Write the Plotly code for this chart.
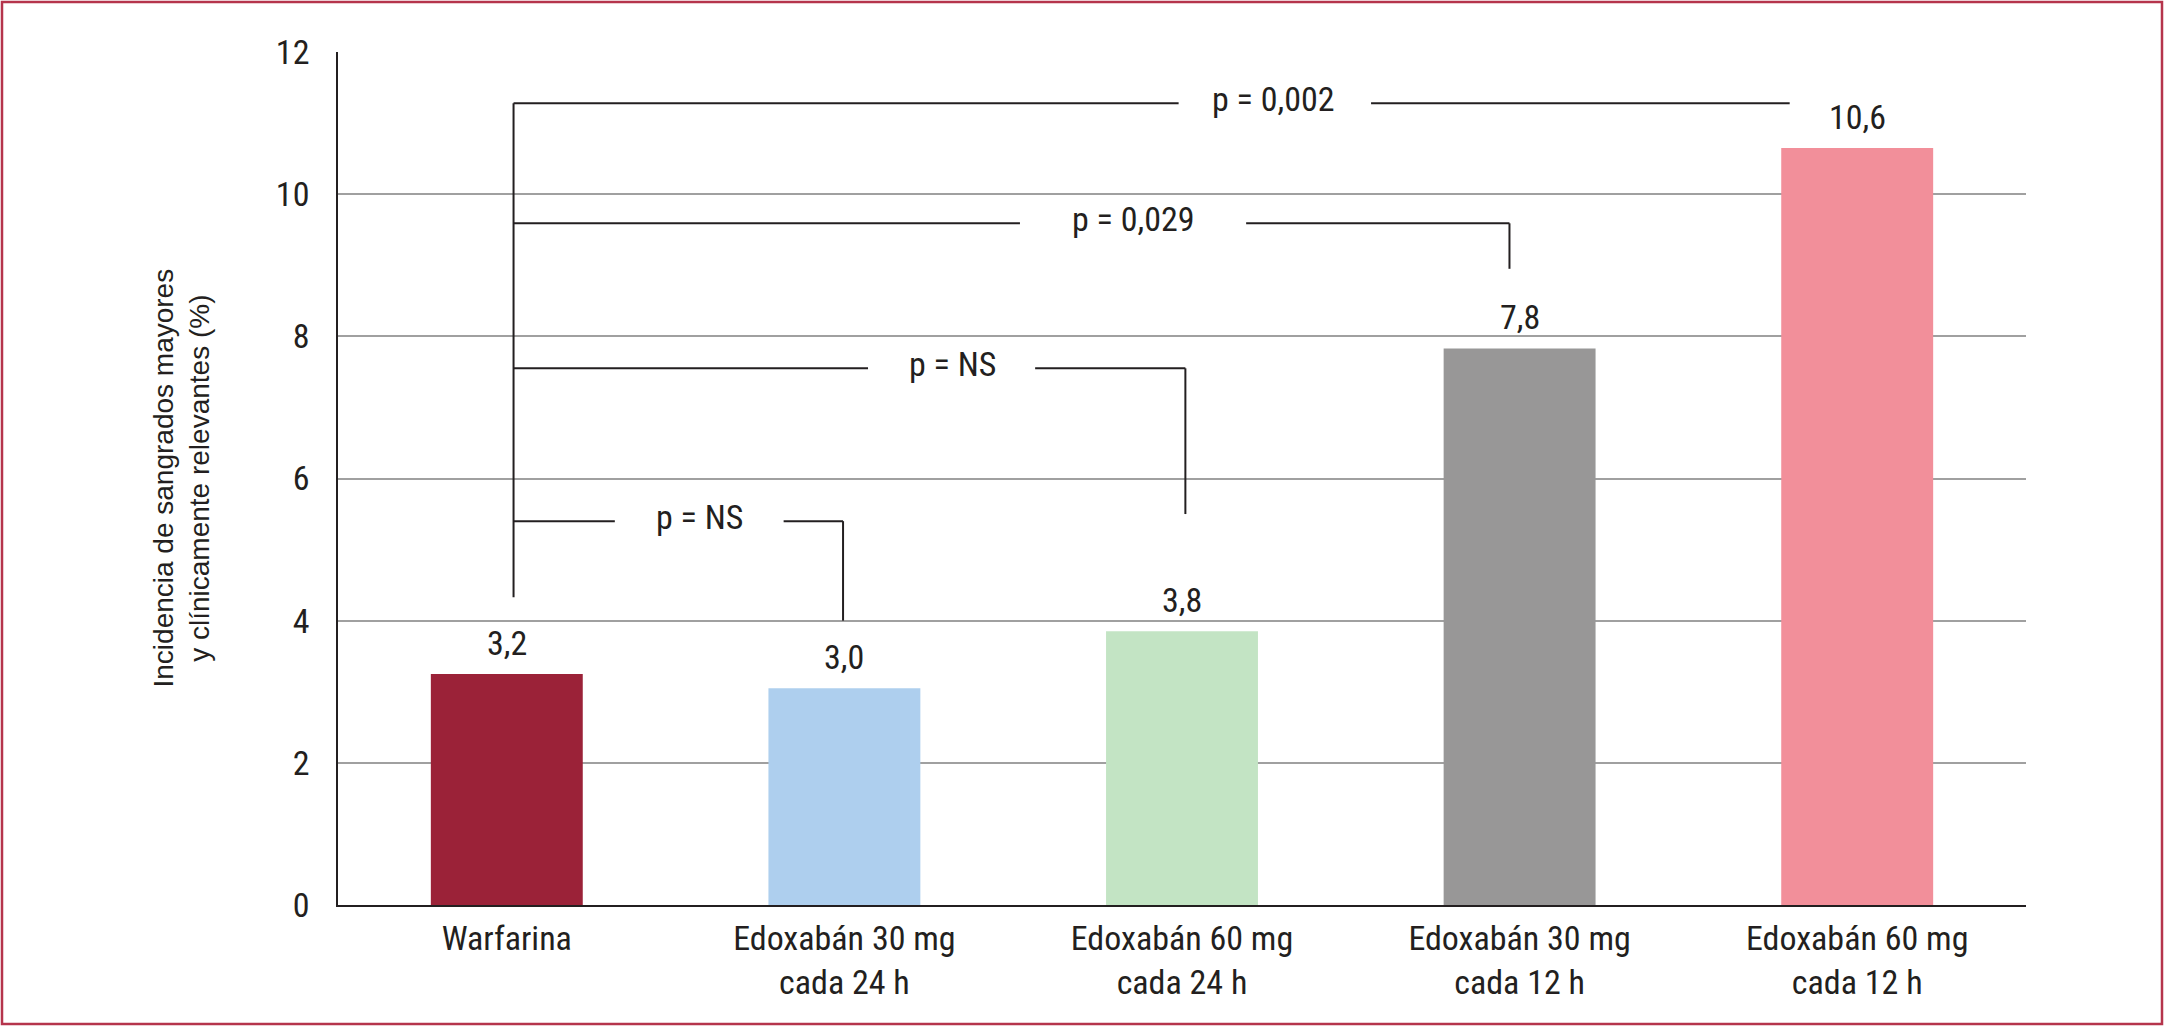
import plotly.graph_objects as go

categories = ["Warfarina", "Edoxabán 30 mg<br>cada 24 h", "Edoxabán 60 mg<br>cada 24 h",
              "Edoxabán 30 mg<br>cada 12 h", "Edoxabán 60 mg<br>cada 12 h"]
values = [3.25, 3.05, 3.85, 7.83, 10.65]
value_labels = ["3,2", "3,0", "3,8", "7,8", "10,6"]
bar_colors = ["#9B2238", "#AECFEE", "#C3E4C4", "#989797", "#F28F9A"]
y_ticks = [0, 2, 4, 6, 8, 10, 12]

# comparison brackets: label, y level, label x, left gap end, right gap start, right end, drop-to y
brackets = [
    ("p = 0,002", 11.28, 2.27, 1.99, 2.56, 3.80, None),
    ("p = 0,029", 9.59, 1.855, 1.52, 2.19, 2.97, 8.95),
    ("p = NS", 7.55, 1.32, 1.07, 1.565, 2.01, 5.50),
    ("p = NS", 5.40, 0.57, 0.32, 0.82, 0.996, 4.00),
]
stem_x = 0.02
stem_bottom = 4.33

W, H = 2164, 1026
L, R, T, B = 338, 138, 52, 121
pw, ph = W - L - R, H - T - B

cond = "Roboto Condensed, Liberation Sans Narrow, DejaVu Sans Condensed, sans-serif"
txt = "#231F20"
fsize = 34

fig = go.Figure()
fig.add_trace(go.Bar(
    x=list(range(len(categories))), y=values,
    marker=dict(color=bar_colors, line=dict(width=0)),
    width=0.45, hoverinfo="skip", showlegend=False,
))

shapes = []
annotations = []
line_style = dict(color="#231F20", width=2)
# stem
shapes.append(dict(type="line", xref="x", yref="y", x0=stem_x, x1=stem_x,
                   y0=stem_bottom, y1=brackets[0][1], line=line_style))
for label, yl, xt, g0, g1, xe, yd in brackets:
    shapes.append(dict(type="line", xref="x", yref="y", x0=stem_x, x1=g0, y0=yl, y1=yl, line=line_style))
    shapes.append(dict(type="line", xref="x", yref="y", x0=g1, x1=xe, y0=yl, y1=yl, line=line_style))
    if yd is not None:
        shapes.append(dict(type="line", xref="x", yref="y", x0=xe, x1=xe, y0=yl, y1=yd, line=line_style))
    annotations.append(dict(x=xt, y=yl, xref="x", yref="y", text=label, showarrow=False,
                            font=dict(family=cond, size=fsize, color=txt), yanchor="middle", yshift=4))

for i, (v, lab) in enumerate(zip(values, value_labels)):
    annotations.append(dict(x=i, y=v, xref="x", yref="y", text=lab, showarrow=False,
                            yanchor="bottom", yshift=9,
                            font=dict(family=cond, size=fsize, color=txt)))

# y-axis title
annotations.append(dict(x=(181 - L) / pw, y=0.5, xref="paper", yref="paper",
                        text="Incidencia de sangrados mayores<br>y clínicamente relevantes (%)",
                        textangle=-90, showarrow=False, xanchor="center", yanchor="middle",
                        font=dict(family="Liberation Sans, Arial, sans-serif", size=28, color=txt)))

# outer frame
shapes.append(dict(type="rect", xref="paper", yref="paper",
                   x0=(2 - L) / pw, x1=(W - 2 - L) / pw,
                   y0=-(H - 2 - T - ph) / ph, y1=(ph + T - 2) / ph,
                   line=dict(color="#B5344C", width=2.5), fillcolor="rgba(0,0,0,0)", layer="below"))

fig.update_layout(
    width=W, height=H,
    margin=dict(l=L, r=R, t=T, b=B),
    paper_bgcolor="white", plot_bgcolor="white",
    shapes=shapes, annotations=annotations,
    bargap=0.55,
    xaxis=dict(
        tickmode="array", tickvals=list(range(len(categories))), ticktext=categories,
        range=[-0.5, len(categories) - 0.5],
        showgrid=False, zeroline=False,
        showline=True, linecolor="#231F20", linewidth=2,
        ticks="", ticklabelstandoff=2,
        tickfont=dict(family=cond, size=fsize, color=txt),
    ),
    yaxis=dict(
        range=[0, 12], tickvals=y_ticks,
        showgrid=True, gridcolor="#A0A0A0", gridwidth=1.5,
        zeroline=False, showline=True, linecolor="#231F20", linewidth=1.5,
        ticks="", ticklabelstandoff=20,
        tickfont=dict(family=cond, size=fsize, color=txt),
    ),
)

fig.write_html("out.html", config={"displayModeBar": False},
               post_script="document.body.style.margin='0';")
